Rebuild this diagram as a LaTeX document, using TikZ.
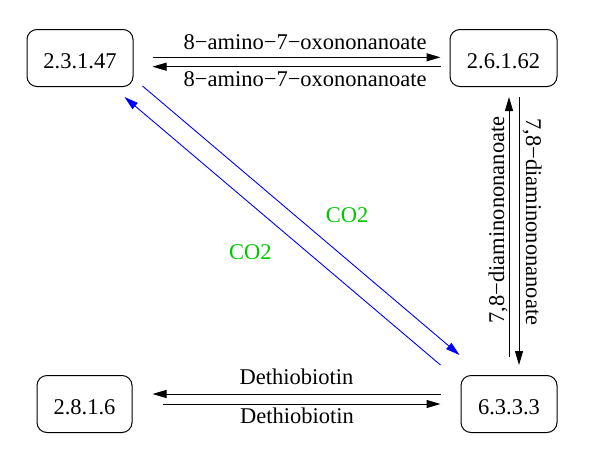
\documentclass[tikz,border=0pt]{standalone}
\usepackage{fontspec}
\setmainfont{Liberation Serif}
\usetikzlibrary{arrows.meta,calc,positioning}
\definecolor{cotwo}{RGB}{0,200,0}
\tikzset{
ecbox/.style={
  rectangle,
  rounded corners=10pt,
  line width=1pt,
  inner sep=0pt,
  minimum height=57pt,
  text height=20pt,
  text depth=0pt,
  draw=black,
  }
}
\tikzset{
rxnline/.style={
  line width=1pt,
  -{Triangle[length=14pt,width=8pt]}
  }
}
\tikzset{
co2line/.style={
  rxnline,
  line width=0.9pt,
  color=blue,
  }
}

\begin{document}
\begin{tikzpicture}[x=1pt,y=-1pt,font=\fontsize{22.5}{27}\selectfont]
    \useasboundingbox (0,0) rectangle (600,469);
    \node[ecbox, minimum width=106pt] (e2314) at (80,58) {2.3.1.47};
    \node[ecbox, minimum width=107pt, right=316pt of e2314] (e26162) {2.6.1.62};
    \node[ecbox, minimum width=95pt, below left=288pt and 1pt of e2314.south east] (e2816) {2.8.1.6};
    \node[ecbox, minimum width=96pt, below left=288pt and 0pt of e26162.south east] (e6333) {6.3.3.3};

    % top pair
    \draw[rxnline] ($(e2314.east)+(19,-0.7)$) -- ($(e26162.west)+(-9,-0.7)$)
        node[pos=.53, anchor=base, yshift=8pt] {8−amino−7−oxononanoate};
    \draw[rxnline] ($(e26162.west)+(-9,8.7)$) -- ($(e2314.east)+(19,8.7)$)
        node[pos=.47, anchor=base, yshift=-20pt] {8−amino−7−oxononanoate};

    % right pair
    \draw[rxnline] ($(e6333.north)+(0,-18)$) -- ($(e6333.north |- e26162.south)+(0,10)$)
        node[pos=.527, xshift=-5pt, rotate=90, anchor=base] {7,8−diaminononanoate};
    \draw[rxnline] ($(e6333.north |- e26162.south)+(10,10)$) -- ($(e6333.north)+(10,-10)$)
        node[pos=.466, xshift=7pt, rotate=-90, anchor=base] {7,8−diaminononanoate};

    % bottom pair
    \draw[rxnline] ($(e6333.west)+(-20,-10)$) -- ($(e2816.east)+(20,-10)$)
        node[pos=.5, anchor=base, yshift=9.3pt] {Dethiobiotin};
    \draw[rxnline] ($(e2816.east)+(30,0)$) -- ($(e6333.west)+(-20,0)$)
        node[pos=.484, anchor=base, yshift=-19.5pt] {Dethiobiotin};

    % diagonal pair
    \draw[co2line] ($(e2314.south east)+(9,-1)$) -- ($(e6333.north west)+(-1,-20)$)
        node[pos=.576, xshift=22pt, yshift=26pt, text=cotwo] {CO2};
    \draw[co2line] ($(e6333.north west)+(-20,-10)$) -- ($(e2314.south east)+(-9,10)$)
        node[pos=.526, xshift=-24pt, yshift=-28pt, text=cotwo] {CO2};
\end{tikzpicture}
\end{document}
